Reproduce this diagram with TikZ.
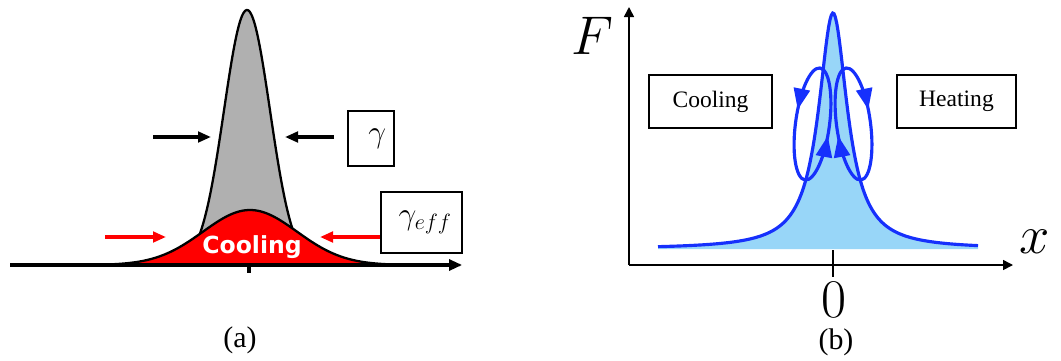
\RequirePackage{fix-cm}
\documentclass[tikz,border=0pt]{standalone}
\usepackage{fontspec}
\setmainfont{Liberation Serif}
\newfontfamily\coolfont{DejaVu Sans}
\usepackage{tikz}
\usetikzlibrary{arrows.meta, positioning, decorations.markings}

\definecolor{peakgray}{RGB}{176,176,176}
\definecolor{lineblue}{RGB}{22,48,252}
\definecolor{fillblue}{RGB}{152,214,248}

\begin{document}
\begin{tikzpicture}[x=0.02cm, y=0.02cm,
    box/.style={rectangle, draw=black, line width=0.9pt, inner sep=0pt, font=#1},
    box/.default={\fontsize{13.4}{14}\selectfont},
    curvea/.style={draw=black, line width=1.3pt, fill=#1},
    axisa/.style={-{Triangle[length=2.6mm, width=2.2mm]}, line width=1.8pt, #1},
    axisa/.default={black},
    axisb/.style={-{Triangle[length=2mm, width=2mm]}, line width=0.9pt},
    arra/.style={-{Triangle[length=2.6mm, width=2.1mm]}, line width=1.8pt, #1},
    arra/.default={black},
    bigmath/.style={font=\fontsize{31}{31}\selectfont, inner sep=0pt},
    looptip/.style={Triangle[length=4.2mm, width=3.2mm]},
    loopcool/.style={draw=lineblue, line width=1.8pt, postaction={decorate}, decoration={markings,
        mark=at position 0.2 with {\arrow{Triangle[length=4.2mm, width=3.2mm]}},
        mark=at position 0.71 with {\arrow{Triangle[length=4.2mm, width=3.2mm]}}}},
    loopheat/.style={draw=lineblue, line width=1.8pt, postaction={decorate}, decoration={markings,
        mark=at position 0.29 with {\arrowreversed{Triangle[length=4.2mm, width=3.2mm]}},
        mark=at position 0.8 with {\arrowreversed{Triangle[length=4.2mm, width=3.2mm]}}}}
]
\useasboundingbox (0,0) rectangle (1061,360);

% === PANEL (a) ===
\filldraw[curvea=peakgray] plot[domain=150:345, samples=120, smooth] (\x, {95+255*exp(-((\x-247)/23)^2/2)}) -- cycle;
\filldraw[curvea=red] plot[domain=10:460, samples=150, smooth] (\x, {95+55*exp(-((\x-250)/47)^2/2)}) -- cycle;

\coordinate (aorig) at (10,95);
\coordinate (aend) at (462,95);
\coordinate (atickt) at (249,95);
\coordinate (atickb) at (249,87);
\draw[axisa] (aorig) -- (aend);
\draw[line width=1.8pt] (atickt) -- (atickb);

\node[font=\coolfont\bfseries\fontsize{13.4}{14}\selectfont, text=white] (coola) at (252,113) {Cooling};

\coordinate (gl1) at (153,223);
\coordinate (gl2) at (211,223);
\coordinate (gr1) at (334,223);
\coordinate (gr2) at (285,223);
\draw[arra] (gl1) -- (gl2);
\draw[arra] (gr1) -- (gr2);

\coordinate (el1) at (105,123);
\coordinate (el2) at (166,123);
\coordinate (er1) at (381,123);
\coordinate (er2) at (320,123);
\draw[arra=red] (el1) -- (el2);
\draw[arra=red] (er1) -- (er2);

\node[box={\fontsize{18}{18}\selectfont}, minimum width=0.92cm, minimum height=1.1cm] (boxgam) at (371,221.5) {\hspace{0.25cm}$\gamma$};
\node[box={\fontsize{18}{18}\selectfont}, minimum width=1.62cm, minimum height=1.22cm] (boxgameff) at (421.5,137.5) {\hspace{0.15cm}$\gamma_{eff}$};

\node[font=\fontsize{17}{18}\selectfont] (capa) at (240,20) {(a)};

% === PANEL (b) ===
\fill[fillblue] (658,111) -- plot[domain=658:978, samples=241] (\x, {111+236/(1+((\x-833)/17.5)^2)}) -- (978,111) -- cycle;
\draw[draw=lineblue, line width=1.8pt] plot[domain=658:978, samples=241] (\x, {111+236/(1+((\x-833)/17.5)^2)});

\coordinate (borig) at (629,95);
\coordinate (bxend) at (1013,95);
\coordinate (byend) at (629,353);
\coordinate (btickt) at (833,110);
\coordinate (btickb) at (833,83);
\draw[axisb] (borig) -- (bxend);
\draw[axisb] (borig) -- (byend);
\draw[line width=0.9pt] (btickt) -- (btickb);

\begin{scope}[shift={(812.5,236)}, rotate=82.4]
\draw[loopcool] (0,0) ellipse[x radius=1.13cm, y radius=0.34cm];
\end{scope}
\begin{scope}[shift={(853.5,236)}, rotate=97.6]
\draw[loopheat] (0,0) ellipse[x radius=1.13cm, y radius=0.34cm];
\end{scope}

\node[box, minimum width=2.46cm, minimum height=1.06cm] (coolb) at (710.5,258.5) {Cooling};
\node[box, minimum width=2.38cm, minimum height=1.06cm] (heatb) at (956.5,258.5) {Heating};

\node[bigmath] (lblF) at (592,324) {$F$};
\node[bigmath] (lblx) at (1035,118) {$x$};
\node[bigmath] (lblzero) at (834,60) {$0$};

\node[font=\fontsize{17}{18}\selectfont] (capb) at (836,18) {(b)};

\end{tikzpicture}
\end{document}
